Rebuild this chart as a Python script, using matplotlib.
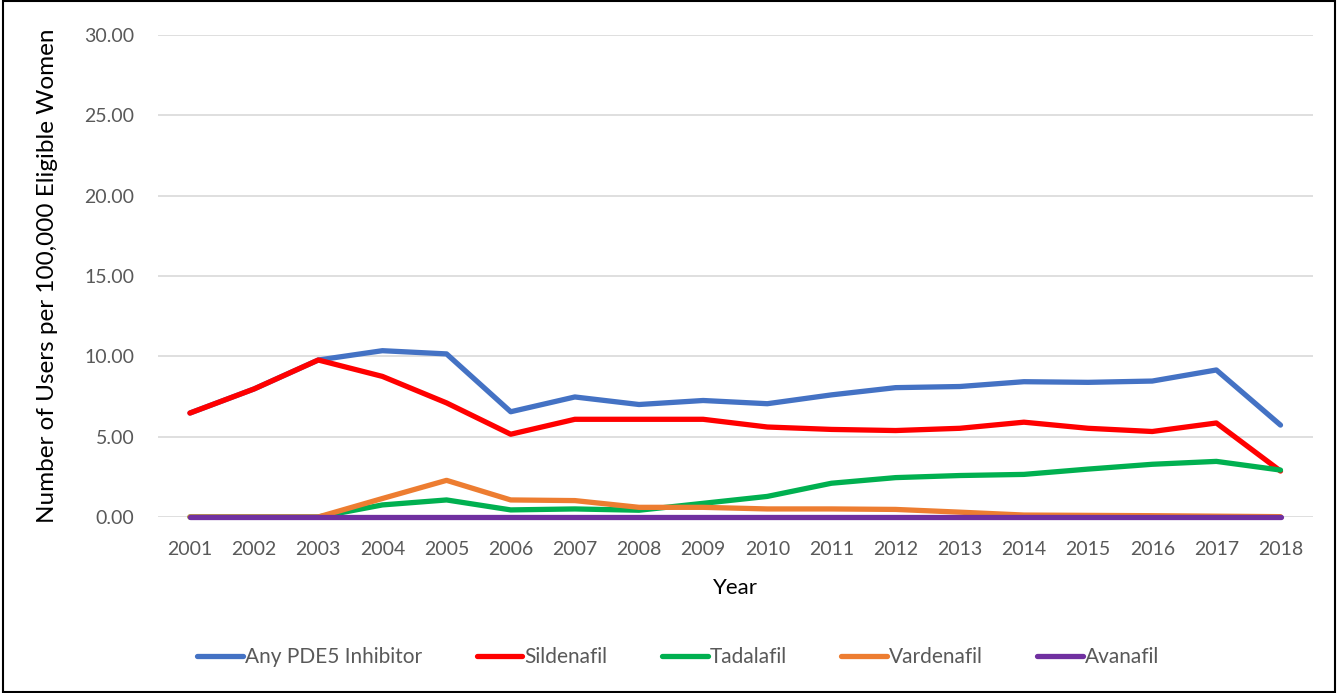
import matplotlib.pyplot as plt
from matplotlib.patches import Rectangle

years = [str(y) for y in range(2001, 2019)]

any_pde5 = [6.47, 7.97, 9.77, 10.35, 10.15, 6.55, 7.47, 7.0, 7.25, 7.05,
            7.6, 8.05, 8.12, 8.42, 8.38, 8.46, 9.15, 5.72]
sildenafil = [6.47, 7.97, 9.77, 8.75, 7.1, 5.15, 6.08, 6.08, 6.08, 5.6,
              5.45, 5.38, 5.52, 5.9, 5.52, 5.32, 5.85, 2.86]
tadalafil = [0.0, 0.0, 0.0, 0.75, 1.06, 0.44, 0.5, 0.42, 0.85, 1.28,
             2.1, 2.45, 2.58, 2.65, 2.98, 3.28, 3.46, 2.92]
vardenafil = [0.0, 0.0, 0.0, 1.15, 2.28, 1.06, 1.02, 0.6, 0.6, 0.5,
              0.5, 0.47, 0.3, 0.12, 0.1, 0.08, 0.05, 0.02]
avanafil = [0.0] * 18

series = [
    ("Any PDE5 Inhibitor", any_pde5, "#4472C4"),
    ("Sildenafil", sildenafil, "#FF0000"),
    ("Tadalafil", tadalafil, "#00B050"),
    ("Vardenafil", vardenafil, "#ED7D31"),
    ("Avanafil", avanafil, "#7030A0"),
]

plt.rcParams['font.family'] = ['Lato', 'DejaVu Sans']

fig = plt.figure(figsize=(13.38, 6.93), dpi=100)
ax = fig.add_axes([0.118, 0.254, 0.863, 0.6955])

x = list(range(len(years)))
for name, vals, col in series:
    ax.plot(x, vals, color=col, linewidth=3.8, label=name, clip_on=False,
            solid_capstyle='round', solid_joinstyle='round')

ax.set_xlim(-0.5, len(years) - 0.5)
ax.set_ylim(0, 30)
ax.set_yticks([0, 5, 10, 15, 20, 25, 30])
ax.set_yticklabels(["%.2f" % v for v in [0, 5, 10, 15, 20, 25, 30]])
ax.set_xticks(x)
ax.set_xticklabels(years)
ax.tick_params(length=0, labelsize=14, colors='#595959')
ax.tick_params(axis='x', pad=17)
ax.tick_params(axis='y', pad=17)
ax.grid(axis='y', color='#D9D9D9', linewidth=1.2)
ax.set_axisbelow(True)
for s in ['top', 'right', 'left', 'bottom']:
    ax.spines[s].set_visible(False)

ax.set_xlabel("Year", fontsize=16, labelpad=15)
ax.set_ylabel("Number of Users per 100,000 Eligible Women", fontsize=17.5, labelpad=19)

fig.legend(loc='center', bbox_to_anchor=(0.507, 0.052), ncol=5, frameon=False,
           fontsize=15, handlelength=2.2, handletextpad=0.1, columnspacing=2.6,
           labelcolor='#595959')

fig.patches.append(Rectangle((0.002, 0.002), 0.996, 0.996, transform=fig.transFigure,
                             fill=False, edgecolor='black', linewidth=1.5))

plt.savefig('out.png', dpi=100)
plt.close()
